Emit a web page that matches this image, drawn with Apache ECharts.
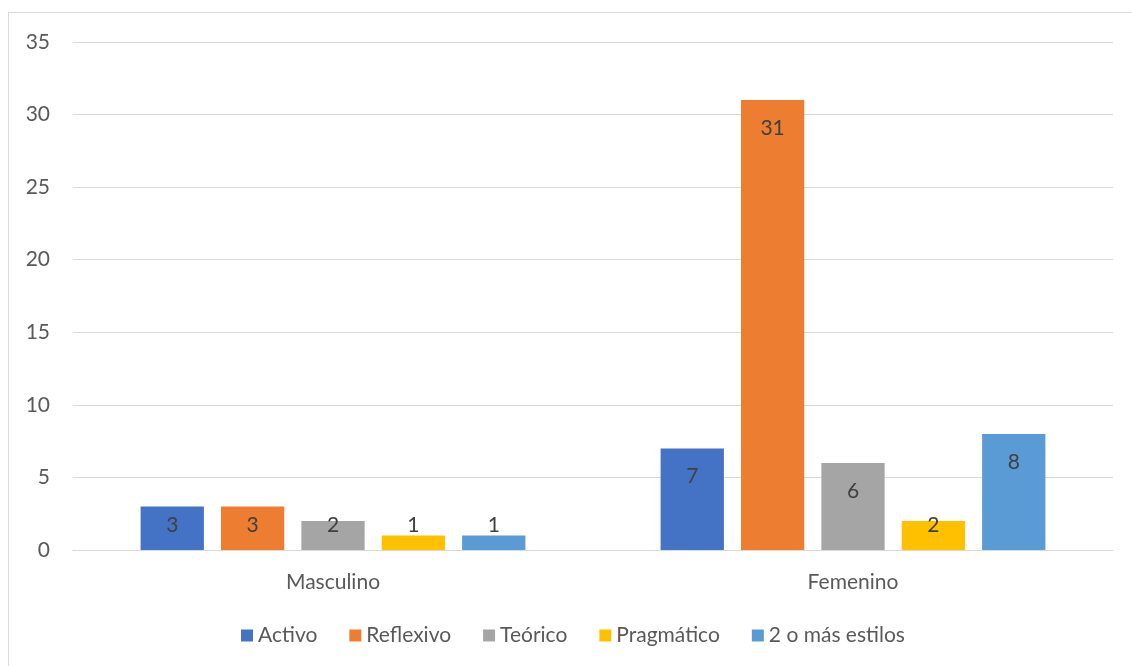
<!DOCTYPE html>
<html>
<head>
<meta charset="utf-8">
<script src="https://cdn.jsdelivr.net/npm/echarts@6/dist/echarts.min.js"></script>
<style>
  html, body { margin: 0; padding: 0; overflow: hidden; background: #fff; }
  #frame { position: absolute; left: 8px; top: 12px; width: 1200px; height: 700px; border: 1px solid #d9d9d9; }
  #chartBox { position: absolute; left: 0; top: 0; width: 1132px; height: 666px; }
</style>
</head>
<body>
<div id="frame"></div>
<div id="chartBox"></div>
<script>
const categories = ["Masculino", "Femenino"];
const seriesNames = ["Activo", "Reflexivo", "Teórico", "Pragmático", "2 o más estilos"];
const activo = [3, 7];
const reflexivo = [3, 31];
const teorico = [2, 6];
const pragmatico = [1, 2];
const masEstilos = [1, 8];
const colors = ["#4472C4", "#ED7D31", "#A5A5A5", "#FFC000", "#5B9BD5"];

const seriesValues = [activo, reflexivo, teorico, pragmatico, masEstilos];
const fontFamily = "Lato, 'Open Sans', sans-serif";

let chart = echarts.init(document.getElementById("chartBox"));

let option = {
  animation: false,
  color: colors,
  textStyle: { fontFamily: fontFamily },
  grid: { left: 73, right: 19, top: 42, bottom: 116 },
  legend: {
    bottom: 15,
    left: 236,
    itemWidth: 12,
    itemHeight: 12,
    itemGap: 32,
    icon: "rect",
    textStyle: { fontSize: 21, color: "#595959", fontFamily: fontFamily },
    data: seriesNames
  },
  xAxis: {
    type: "category",
    data: categories,
    axisLine: { lineStyle: { color: "#d9d9d9", width: 1 } },
    axisTick: { show: false },
    axisLabel: { fontSize: 21, color: "#595959", margin: 22 }
  },
  yAxis: {
    type: "value",
    min: 0,
    max: 35,
    interval: 5,
    axisLine: { show: false },
    axisTick: { show: false },
    axisLabel: { fontSize: 21, color: "#595959", margin: 23 },
    splitLine: { lineStyle: { color: "#d9d9d9", width: 1 } }
  },
  series: seriesNames.map(function(name, i) {
    return {
      name: name,
      type: "bar",
      data: seriesValues[i],
      barGap: "27%",
      barCategoryGap: "26%",
      label: {
        show: true,
        position: "insideTop",
        fontSize: 21,
        color: "#404040"
      },
      labelLayout: function(params) {
        const r = params.rect;
        const y = Math.min(r.y + 28, r.y + r.height - 25);
        return { x: r.x + r.width / 2, y: y, align: "center", verticalAlign: "middle" };
      }
    };
  })
};

chart.setOption(option);
</script>
</body>
</html>
